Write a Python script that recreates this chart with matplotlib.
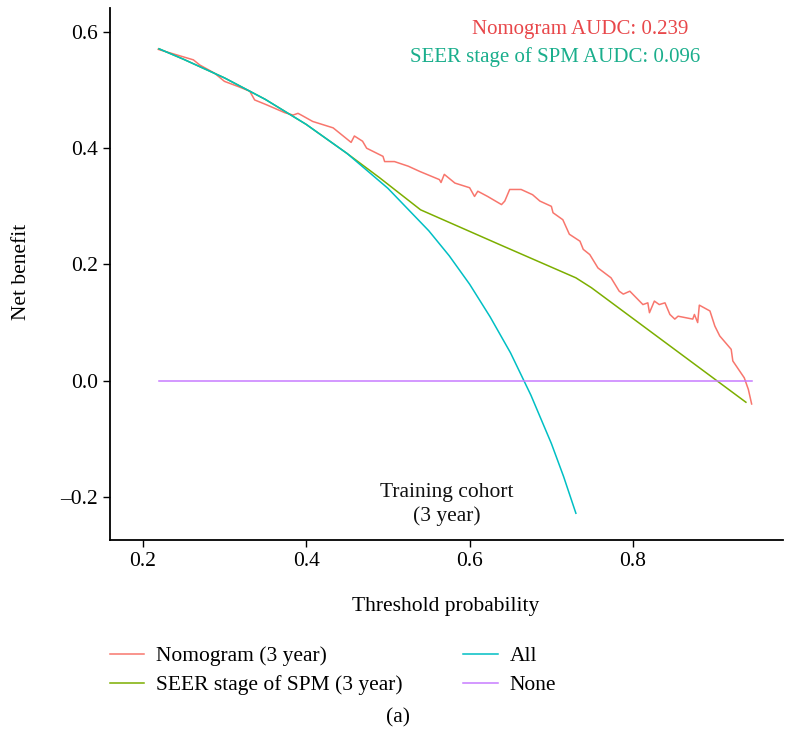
import numpy as np
import matplotlib
matplotlib.use('Agg')
import matplotlib.pyplot as plt

plt.rcParams['font.family'] = ['Liberation Serif', 'DejaVu Serif']

# Nomogram (3 year) net benefit
nomo_pt = [0.219, 0.262, 0.270, 0.288, 0.300, 0.317, 0.331, 0.337, 0.351, 0.374,
           0.384, 0.390, 0.394, 0.408, 0.433, 0.455, 0.459, 0.469, 0.474, 0.494,
           0.496, 0.508, 0.525, 0.539, 0.563, 0.565, 0.569, 0.582, 0.600, 0.606,
           0.610, 0.622, 0.639, 0.643, 0.649, 0.663, 0.677, 0.686, 0.700, 0.702,
           0.714, 0.722, 0.735, 0.739, 0.747, 0.757, 0.773, 0.783, 0.788, 0.796,
           0.812, 0.818, 0.820, 0.826, 0.832, 0.839, 0.845, 0.851, 0.855, 0.873,
           0.875, 0.879, 0.881, 0.894, 0.900, 0.906, 0.920, 0.922, 0.936, 0.941, 0.945]
nomo_nb = [0.570, 0.552, 0.543, 0.529, 0.515, 0.506, 0.498, 0.483, 0.475, 0.461,
           0.457, 0.460, 0.457, 0.446, 0.435, 0.410, 0.421, 0.412, 0.400, 0.386,
           0.377, 0.377, 0.369, 0.360, 0.346, 0.341, 0.355, 0.340, 0.332, 0.317,
           0.326, 0.317, 0.303, 0.309, 0.329, 0.329, 0.320, 0.309, 0.300, 0.289,
           0.277, 0.252, 0.240, 0.226, 0.217, 0.194, 0.177, 0.154, 0.149, 0.154,
           0.131, 0.134, 0.117, 0.137, 0.131, 0.134, 0.114, 0.106, 0.111, 0.106,
           0.114, 0.100, 0.130, 0.120, 0.094, 0.077, 0.054, 0.034, 0.005, -0.015, -0.040]

# SEER stage of SPM (3 year)
seer_pt = [0.22, 0.25, 0.30, 0.35, 0.40, 0.45, 0.47, 0.49, 0.54, 0.637, 0.73, 0.749, 0.938]
seer_nb = [0.571, 0.553, 0.521, 0.484, 0.441, 0.391, 0.370, 0.349, 0.294, 0.234, 0.177, 0.160, -0.037]

# Treat all
all_pt = [0.22, 0.25, 0.30, 0.35, 0.40, 0.45, 0.50, 0.55, 0.575, 0.60, 0.625,
          0.65, 0.675, 0.70, 0.715, 0.73]
all_nb = [0.571, 0.553, 0.521, 0.484, 0.441, 0.391, 0.331, 0.258, 0.215, 0.166,
          0.11, 0.048, -0.025, -0.108, -0.165, -0.228]

# Treat none
none_pt = [0.22, 0.945]
none_nb = [0.0, 0.0]

fs = 15.5

fig = plt.figure(figsize=(7.89, 7.37), dpi=100)
ax = fig.add_axes([0.1394, 0.2673, 0.8526, 0.7217])

ax.plot(nomo_pt, nomo_nb, color='#F8766D', lw=1.1, label='Nomogram (3 year)')
ax.plot(seer_pt, seer_nb, color='#7CAE00', lw=1.1, label='SEER stage of SPM (3 year)')
ax.plot(all_pt, all_nb, color='#00BFC4', lw=1.1, label='All')
ax.plot(none_pt, none_nb, color='#C77CFF', lw=1.1, label='None')

ax.set_xlim(0.16, 0.983)
ax.set_ylim(-0.274, 0.641)
ax.set_xticks([0.2, 0.4, 0.6, 0.8])
ax.set_xticklabels(['0.2', '0.4', '0.6', '0.8'])
ax.set_yticks([-0.2, 0.0, 0.2, 0.4, 0.6])
ax.set_yticklabels(['\u20130.2', '0.0', '0.2', '0.4', '0.6'])
ax.tick_params(labelsize=fs, length=5, width=1, direction='out', colors='black')
for s in ['top', 'right']:
    ax.spines[s].set_visible(False)
for s in ['left', 'bottom']:
    ax.spines[s].set_linewidth(1.3)

ax.text(0.735, 0.605, 'Nomogram AUDC: 0.239', color='#E8474A', fontsize=15,
        ha='center', va='center')
ax.text(0.704, 0.557, 'SEER stage of SPM AUDC: 0.096', color='#1AAE8C', fontsize=15,
        ha='center', va='center')
ax.text(0.572, -0.213, 'Training cohort\n(3 year)', color='#111111', fontsize=fs,
        ha='center', va='center', linespacing=1.25)

fig.text(446 / 789, 1 - 607 / 737, 'Threshold probability', fontsize=fs,
         ha='center', va='center')
fig.text(22 / 789, 1 - 272 / 737, 'Net benefit', fontsize=fs, rotation=90,
         ha='center', va='center')

fig.legend(loc='upper left', bbox_to_anchor=(110 / 789, 1 - 646 / 737), ncol=2,
           frameon=False, fontsize=fs, handlelength=1.6, handletextpad=0.55,
           columnspacing=2.8, labelspacing=0.42, borderpad=0, borderaxespad=0)
fig.text(398 / 789, 1 - 718 / 737, '(a)', fontsize=fs, ha='center', va='center')

fig.savefig('out.png', dpi=100)
